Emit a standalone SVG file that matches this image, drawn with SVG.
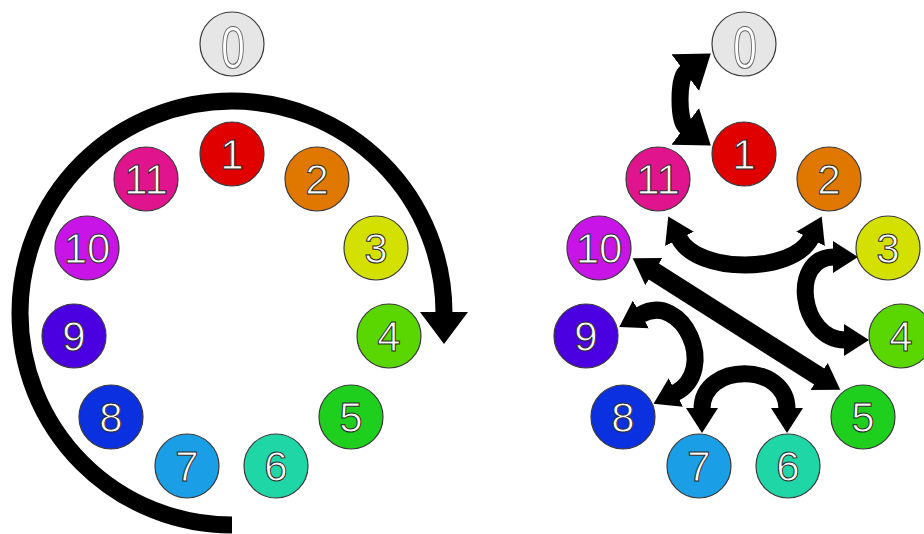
<svg xmlns="http://www.w3.org/2000/svg" width="924" height="534" viewBox="0 0 924 534">
<style>
.n{stroke:#3a3a3a;stroke-width:1.2}
.d{font-family:"Liberation Sans",Arial,sans-serif;font-size:42px;fill:#fff;stroke:#2a2a2a;stroke-width:1;text-anchor:middle}
.z{font-family:"Liberation Sans",Arial,sans-serif;font-size:60px;fill:#fff;stroke:#6a6a6a;stroke-width:1.2;text-anchor:middle}
.a{fill:none;stroke:#000;stroke-width:17;stroke-linecap:butt}
</style>
<defs>
<marker id="hb" markerUnits="userSpaceOnUse" viewBox="-1 -24 33 48" markerWidth="33" markerHeight="48" refX="0" refY="0" orient="auto-start-reverse"><path d="M-1,-24 L31,0 L-1,24 Z" fill="#000"/></marker>
<marker id="hm" markerUnits="userSpaceOnUse" viewBox="-1 -23 33 46" markerWidth="33" markerHeight="46" refX="0" refY="0" orient="auto-start-reverse"><path d="M-1,-23 L31,0 L-1,23 Z" fill="#000"/></marker>
<marker id="hs" markerUnits="userSpaceOnUse" viewBox="-1 -16 26 32" markerWidth="26" markerHeight="32" refX="0" refY="0" orient="auto-start-reverse"><path d="M-1,-16 L24,0 L-1,16 Z" fill="#000"/></marker>
</defs>
<rect width="924" height="534" fill="#fff"/>
<g id="connectors">
<path class="a" d="M232,525 A212,212 0 1 1 444,313" marker-end="url(#hb)"/>
<path class="a" d="M686,72 C678,78 678,121 686,127" marker-start="url(#hm)" marker-end="url(#hm)"/>
<path class="a" d="M679,238 C697,274 793,274 811,238" marker-start="url(#hs)" marker-end="url(#hs)"/>
<path class="a" style="stroke-width:19" d="M653,271 L820,377" marker-start="url(#hs)" marker-end="url(#hs)"/>
<path class="a" d="M834,257 C789,257 800,340 845,340" marker-start="url(#hs)" marker-end="url(#hs)"/>
<path class="a" d="M640,315 C683,290 719,371 675,393" marker-start="url(#hs)" marker-end="url(#hs)"/>
<path class="a" d="M702,409 C702,362 787,362 787,409" marker-start="url(#hs)" marker-end="url(#hs)"/>
</g>
<g id="left-0"><circle class="n" cx="232" cy="44" r="32" fill="#e6e6e6" stroke="#888"/><text class="z" transform="translate(233,68) scale(0.72,1)">0</text></g>
<g id="left-1"><circle class="n" cx="232" cy="154" r="32" fill="#e00000"/><text class="d" x="232" y="169">1</text></g>
<g id="left-2"><circle class="n" cx="317" cy="179" r="32" fill="#e07800"/><text class="d" x="317" y="194">2</text></g>
<g id="left-3"><circle class="n" cx="376" cy="248" r="32" fill="#d4e000"/><text class="d" x="376" y="263">3</text></g>
<g id="left-4"><circle class="n" cx="389" cy="336" r="32" fill="#5ad600"/><text class="d" x="389" y="351">4</text></g>
<g id="left-5"><circle class="n" cx="351" cy="417" r="32" fill="#1ecf1e"/><text class="d" x="351" y="432">5</text></g>
<g id="left-6"><circle class="n" cx="276" cy="466" r="32" fill="#1ed6a6"/><text class="d" x="276" y="481">6</text></g>
<g id="left-7"><circle class="n" cx="187" cy="466" r="32" fill="#1a9ee6"/><text class="d" x="187" y="481">7</text></g>
<g id="left-8"><circle class="n" cx="111" cy="417" r="32" fill="#0a30e0"/><text class="d" x="111" y="432">8</text></g>
<g id="left-9"><circle class="n" cx="74" cy="336" r="32" fill="#4a00e0"/><text class="d" x="74" y="351">9</text></g>
<g id="left-10"><circle class="n" cx="87" cy="248" r="32" fill="#c814e6"/><text class="d" x="87" y="263">10</text></g>
<g id="left-11"><circle class="n" cx="146" cy="179" r="32" fill="#e0148c"/><text class="d" x="146" y="194">11</text></g>
<g id="right-0"><circle class="n" cx="744" cy="44" r="32" fill="#e6e6e6" stroke="#888"/><text class="z" transform="translate(745,68) scale(0.72,1)">0</text></g>
<g id="right-1"><circle class="n" cx="744" cy="154" r="32" fill="#e00000"/><text class="d" x="744" y="169">1</text></g>
<g id="right-2"><circle class="n" cx="829" cy="179" r="32" fill="#e07800"/><text class="d" x="829" y="194">2</text></g>
<g id="right-3"><circle class="n" cx="888" cy="248" r="32" fill="#d4e000"/><text class="d" x="888" y="263">3</text></g>
<g id="right-4"><circle class="n" cx="901" cy="336" r="32" fill="#5ad600"/><text class="d" x="901" y="351">4</text></g>
<g id="right-5"><circle class="n" cx="863" cy="417" r="32" fill="#1ecf1e"/><text class="d" x="863" y="432">5</text></g>
<g id="right-6"><circle class="n" cx="788" cy="466" r="32" fill="#1ed6a6"/><text class="d" x="788" y="481">6</text></g>
<g id="right-7"><circle class="n" cx="699" cy="466" r="32" fill="#1a9ee6"/><text class="d" x="699" y="481">7</text></g>
<g id="right-8"><circle class="n" cx="623" cy="417" r="32" fill="#0a30e0"/><text class="d" x="623" y="432">8</text></g>
<g id="right-9"><circle class="n" cx="586" cy="336" r="32" fill="#4a00e0"/><text class="d" x="586" y="351">9</text></g>
<g id="right-10"><circle class="n" cx="599" cy="248" r="32" fill="#c814e6"/><text class="d" x="599" y="263">10</text></g>
<g id="right-11"><circle class="n" cx="658" cy="179" r="32" fill="#e0148c"/><text class="d" x="658" y="194">11</text></g>
</svg>
